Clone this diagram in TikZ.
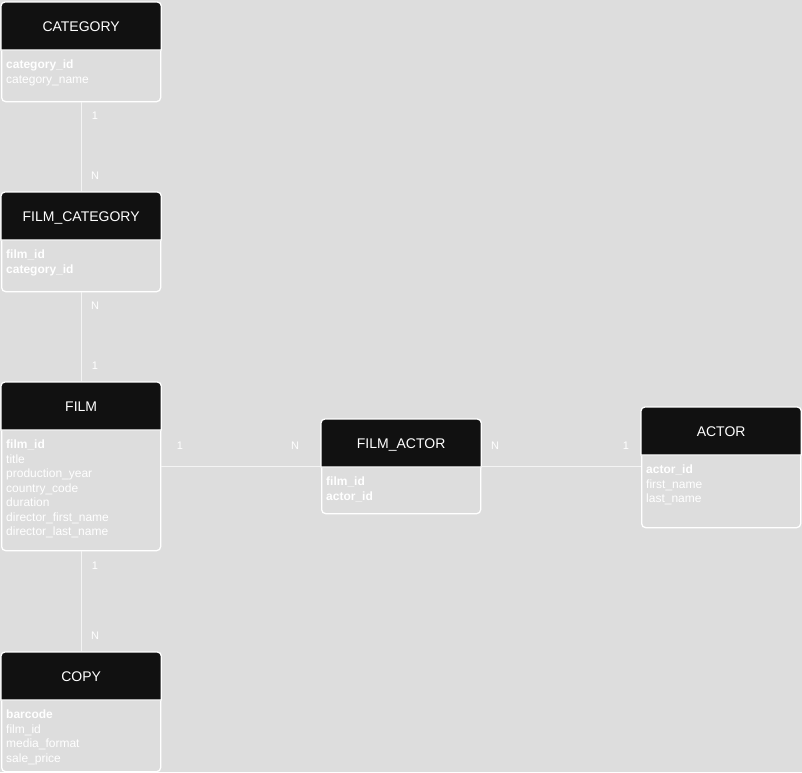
\documentclass[tikz,border=0pt]{standalone}
\usepackage{fontspec}
\setmainfont{Liberation Sans}
\definecolor{canvas}{HTML}{DDDDDD}
\definecolor{headfill}{HTML}{111111}
\definecolor{edge}{HTML}{F4F4F4}
\tikzset{
  entbox/.style={draw=white, line width=1.3pt, fill=canvas, rounded corners=4pt,
    minimum width=159pt, inner sep=0pt, anchor=north west},
  hdr/.style={draw=white, line width=1.3pt, fill=headfill},
  ttl/.style={text=white, font=\fontsize{14}{16}\selectfont, inner sep=0pt, anchor=base},
  fld/.style={text=white, font=\fontsize{12}{14}\selectfont, inner sep=0pt, anchor=base west},
  rel/.style={draw=edge, line width=1pt},
  card/.style={text=white, font=\fontsize{11}{13}\selectfont, inner sep=0pt},
}
% #1 name, #2 left x, #3 top y, #4 height, #5 title, #6 field list
\newcommand\entity[6]{%
  \node[entbox, minimum height=#4pt] (#1) at (#2,#3) {};
  \draw[hdr] ([yshift=-48pt]#1.north west) [rounded corners=4pt] -- (#1.north west)
    -- (#1.north east) [sharp corners] -- ([yshift=-48pt]#1.north east) -- cycle;
  \node[ttl] (#1-title) at ([yshift=-29.5pt]#1.north) {#5};
  \foreach \f [count=\i] in {#6}
    \node[fld] (#1-f\i) at ([xshift=5pt,yshift={-(66.5+14.5*(\i-1))*1pt}]#1.north west) {\f};
}
\begin{document}
\begin{tikzpicture}[x=1pt,y=-1pt]
\fill[canvas] (0,0) rectangle (802,772);
\useasboundingbox (0,0) rectangle (802,772);

\entity{category}{1}{2}{99}{CATEGORY}{\textbf{category\_id},category\_name}
\entity{filmcat}{1}{192}{99}{FILM\_CATEGORY}{\textbf{film\_id},\textbf{category\_id}}
\entity{film}{1}{382}{168}{FILM}{\textbf{film\_id},title,production\_year,country\_code,duration,director\_first\_name,director\_last\_name}
\entity{filmactor}{321}{419}{94}{FILM\_ACTOR}{\textbf{film\_id},\textbf{actor\_id}}
\entity{actor}{641}{407}{120}{ACTOR}{\textbf{actor\_id},first\_name,last\_name}
\entity{copy}{1}{652}{119}{COPY}{\textbf{barcode},film\_id,media\_format,sale\_price}

% relationships
\draw[rel] (category.south) -- (filmcat.north);
\draw[rel] (filmcat.south) -- (film.north);
\draw[rel] (film.south) -- (copy.north);
\draw[rel] (film.east) -- (film.east -| filmactor.west);
\draw[rel] (filmactor.east) -- (filmactor.east -| actor.west);

% cardinalities
\node[card] (c1) at (95,116) {1};
\node[card] (c2) at (95,175.5) {N};
\node[card] (c3) at (95,306) {N};
\node[card] (c4) at (95,366) {1};
\node[card] (c5) at (95,566) {1};
\node[card] (c6) at (95,636) {N};
\node[card] (c7) at (180,446) {1};
\node[card] (c8) at (295,446) {N};
\node[card] (c9) at (495,446) {N};
\node[card] (c10) at (626,446) {1};
\end{tikzpicture}
\end{document}
